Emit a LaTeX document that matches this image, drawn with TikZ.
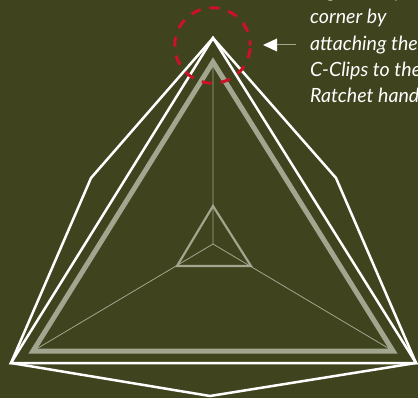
\documentclass[tikz,border=0pt]{standalone}
\usepackage{fontspec}
\setmainfont{Lato}
\begin{document}
\begin{tikzpicture}[x=1pt,y=-1pt,
  wline/.style={draw=white,line width=2.5pt,line join=miter},
  gthick/.style={draw=tri,line width=5pt,line join=miter},
  gmid/.style={draw=tri,line width=2.2pt,line join=miter},
  gthin/.style={draw=tri,line width=0.8pt},
  note/.style={text=white,font=\fontsize{19.6}{20}\selectfont\itshape,anchor=base west,inner sep=0pt}]
\definecolor{bg}{HTML}{3F441E}
\definecolor{tri}{HTML}{A2A68F}
\definecolor{ring}{HTML}{CC1128}
\useasboundingbox (0,0) rectangle (418,398);
\clip (0,0) rectangle (418,398);
\fill[bg] (0,0) rectangle (418,398);
\coordinate (A) at (213,38);
\coordinate (L) at (11,363);
\coordinate (R) at (416,363);
\coordinate (HL) at (91,178);
\coordinate (HR) at (336,178);
\coordinate (B) at (210,396);
\coordinate (ga) at (213,62);
\coordinate (gl) at (33,351);
\coordinate (gr) at (393,351);
\coordinate (ia) at (213,206);
\coordinate (il) at (177,266);
\coordinate (ir) at (251,266);
\coordinate (c) at (213,244);
\draw[gthin] (ga) -- (c) (gl) -- (c) (gr) -- (c);
\draw[gthick] (ga) -- (gl) -- (gr) -- cycle;
\draw[gmid] (ia) -- (il) -- (ir) -- cycle;
\draw[wline] (A) -- (L) -- (R) -- cycle;
\draw[wline] (A) -- (HL) -- (L) -- (B) -- (R) -- (HR) -- cycle;
\node[draw=ring,line width=3pt,dash pattern=on 10pt off 9.11pt,dash phase=5pt,circle,minimum size=75.5pt,inner sep=0pt] (r) at (212.5,45.5) {};
\coordinate (tail) at (296,45);
\coordinate (tip) at (263,45);
\draw[draw=tri,line width=1pt] (tail) -- (277,45);
\fill[white] (tip) -- (277,38.5) -- (277,51.5) -- cycle;
\node[note] (n0) at (310,-2) {together by};
\node[note] (n1) at (310,24) {corner by};
\node[note] (n2) at (310,51) {attaching the};
\node[note] (n3) at (310,77) {C-Clips to the};
\node[note] (n4) at (310,103) {Ratchet hand};
\end{tikzpicture}
\end{document}
